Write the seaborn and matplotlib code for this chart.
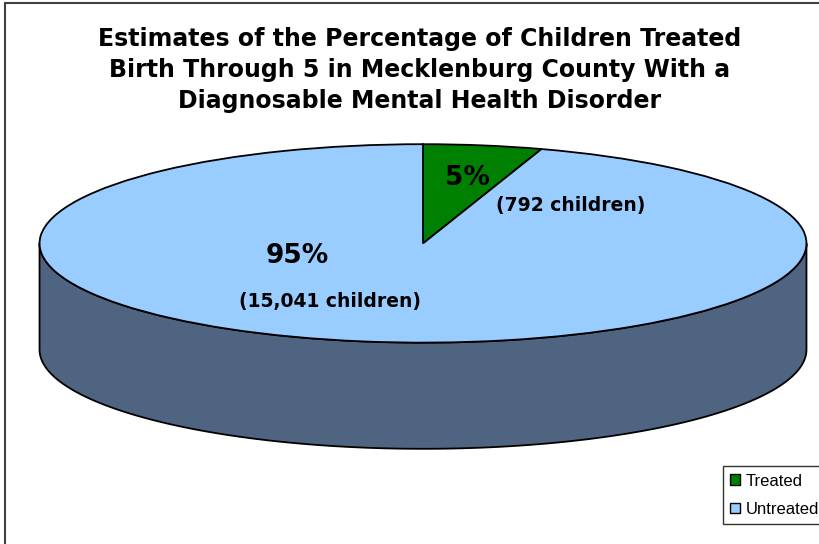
import numpy as np
import matplotlib
matplotlib.use("Agg")
import matplotlib.pyplot as plt
import seaborn as sns
from matplotlib.patches import Rectangle

sns.set_style("white")
plt.rcParams["font.family"] = ["DejaVu Sans"]
plt.rcParams["text.color"] = "black"

# Data
groups = ["Treated", "Untreated"]
percents = [5, 95]
children = [792, 15041]
top_colors = ["#008000", "#99CCFF"]
side_colors = ["#004d00", "#4F6480"]

title = ("Estimates of the Percentage of Children Treated\n"
         "Birth Through 5 in Mecklenburg County With a\n"
         "Diagnosable Mental Health Disorder")

W, H = 820, 544
fig = plt.figure(figsize=(W / 100, H / 100), dpi=100)

# outer chart border
fig.patches.append(Rectangle((5 / W, -0.1), 1.2, 1 - 3 / H + 0.1, transform=fig.transFigure,
                             fill=False, ec="#404040", lw=1.5))

fig.text(420 / W, 1 - 70 / H, title, ha="center", va="center", fontsize=17,
         fontweight="bold", linespacing=1.35)

# pie axes: ellipse top face spans x 38..808, y 143..343; depth ~107 px
depth = 1.07
ax = fig.add_axes([38 / W, 1 - 450 / H, 770 / W, 307 / H])

wedges, _ = ax.pie(percents, colors=top_colors, startangle=90, counterclock=False,
                   radius=1, wedgeprops=dict(edgecolor="black", linewidth=1.3))
for w in wedges:
    w.set_zorder(3)

# side of the cylinder for the front-facing parts of each wedge
cum = np.cumsum([0] + percents) / sum(percents) * 360
for i in range(len(percents)):
    a1 = 90 - cum[i + 1]
    a2 = 90 - cum[i]
    # front half of the cylinder is angles -180..0
    lo, hi = max(a1, -180), min(a2, 0)
    if hi <= lo:
        continue
    t = np.radians(np.linspace(lo, hi, 200))
    xs = np.concatenate([np.cos(t), np.cos(t[::-1])])
    ys = np.concatenate([np.sin(t), np.sin(t[::-1]) - depth])
    ax.fill(xs, ys, fc=side_colors[i], ec="black", lw=1.3, zorder=2)

ax.set_aspect("auto")
ax.set_xlim(-1.004, 1.004)
ax.set_ylim(-1 - depth - 0.012, 1.012)
ax.axis("off")


def px(x, y):
    return x / W, 1 - y / H


fig.text(*px(467, 178), f"{percents[0]}%", ha="center", va="center",
         fontsize=19, fontweight="bold")
fig.text(*px(571, 206), f"({children[0]:,} children)", ha="center", va="center",
         fontsize=13.5, fontweight="bold")
fig.text(*px(297, 256), f"{percents[1]}%", ha="center", va="center",
         fontsize=19, fontweight="bold")
fig.text(*px(330, 302), f"({children[1]:,} children)", ha="center", va="center",
         fontsize=13.5, fontweight="bold")

leg = fig.legend(wedges, groups, loc="upper left", bbox_to_anchor=px(723, 466),
                 frameon=True, fancybox=False, edgecolor="black",
                 prop={"family": "Liberation Sans", "size": 12},
                 handlelength=0.6, handleheight=0.6, handletextpad=0.3,
                 borderpad=0.45, labelspacing=0.8, borderaxespad=0)
leg.get_frame().set_linewidth(1)
for h in leg.legend_handles:
    h.set_edgecolor("black")
    h.set_linewidth(1)

fig.savefig("out.png", dpi=100)
